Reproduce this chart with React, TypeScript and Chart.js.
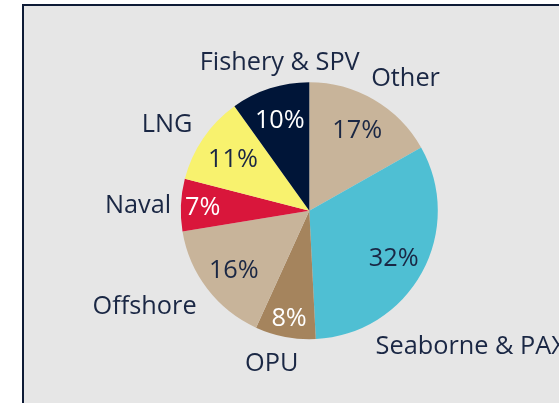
import React, { useEffect, useRef } from "react";
import { Chart, registerables } from "chart.js";

Chart.register(...registerables);

const LABELS = ["Other", "Seaborne & PAX", "OPU", "Offshore", "Naval", "LNG", "Fishery & SPV"];
const VALUES = [16.8, 32.4, 7.6, 15.6, 6.6, 11.1, 9.9];
const COLORS = ["#c8b49a", "#4fbfd3", "#a5845d", "#c8b49a", "#d9163b", "#f8f26e", "#001538"];
const INNER_TEXT_COLORS = ["#1a2744", "#1a2744", "#ffffff", "#1a2744", "#ffffff", "#1a2744", "#ffffff"];
// style: radial position factor of inner labels and nudges of outer labels (px)
const INNER_FACTOR = [0.74, 0.75, 0.84, 0.74, 0.83, 0.72, 0.75];
const OUTER_NUDGE: [number, number][] = [
  [20.7, -4.4],
  [30, 62],
  [-9.5, 4],
  [-45.6, 3.5],
  [-21.4, -0.4],
  [-18.5, -3.4],
  [16.3, -7.4],
];

const FONT_SIZE = 25.3;
const FONT = `400 ${FONT_SIZE}px "Open Sans", "Noto Sans", sans-serif`;
const TEXT_COLOR = "#1a2744";

const labelPlugin = {
  id: "pieLabels",
  afterDatasetsDraw(chart: any) {
    const ctx = chart.ctx;
    const meta = chart.getDatasetMeta(0);
    const data = chart.data.datasets[0].data as number[];
    const total = data.reduce((a, b) => a + b, 0);
    ctx.save();
    ctx.font = FONT;
    ctx.textAlign = "center";
    ctx.textBaseline = "alphabetic";
    const capShift = FONT_SIZE * 0.357;
    meta.data.forEach((el: any, i: number) => {
      const p = el.getProps(["x", "y", "startAngle", "endAngle", "outerRadius"], true);
      const mid = (p.startAngle + p.endAngle) / 2;
      const cx = Math.cos(mid);
      const cy = Math.sin(mid);
      // inner percentage
      const ri = p.outerRadius * INNER_FACTOR[i];
      ctx.fillStyle = INNER_TEXT_COLORS[i];
      ctx.fillText(
        Math.round((data[i] / total) * 100) + "%",
        p.x + cx * ri,
        p.y + cy * ri + capShift
      );
      // outer category label
      const ro = p.outerRadius + 21.5;
      ctx.fillStyle = TEXT_COLOR;
      ctx.fillText(
        chart.data.labels[i],
        p.x + cx * ro + OUTER_NUDGE[i][0],
        p.y + cy * ro + OUTER_NUDGE[i][1] + capShift
      );
    });
    ctx.restore();
  },
};

export default function App() {
  const ref = useRef<HTMLCanvasElement | null>(null);
  useEffect(() => {
    if (!ref.current) return;
    const chart = new Chart(ref.current, {
      type: "pie",
      data: {
        labels: LABELS,
        datasets: [
          {
            data: VALUES,
            backgroundColor: COLORS,
            borderWidth: 0,
          },
        ],
      },
      options: {
        responsive: false,
        animation: false,
        layout: { padding: { left: 180.8, right: 121.2, top: 82.2, bottom: 63.8 } },
        plugins: {
          legend: { display: false },
          tooltip: { enabled: false },
        },
      },
      plugins: [labelPlugin],
    });
    return () => chart.destroy();
  }, []);
  return (
    <div style={{ position: "fixed", left: 0, top: 0, width: 559, height: 403, background: "#ffffff", overflow: "hidden" }}>
      <div
        style={{
          position: "absolute",
          left: 22,
          top: 4,
          width: 700,
          height: 600,
          border: "2.5px solid #0e1b36",
          background: "#e6e6e6",
        }}
      />
      <canvas ref={ref} width={559} height={403} style={{ position: "absolute", left: 0, top: 0 }} />
    </div>
  );
}
